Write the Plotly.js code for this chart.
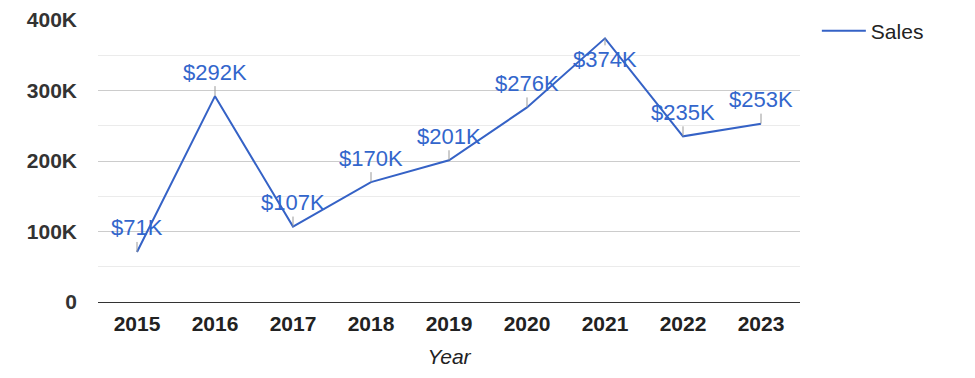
<!DOCTYPE html>
<html>
<head>
<meta charset="utf-8">
<script src="https://cdn.plot.ly/plotly-3.0.1.min.js"></script>
<style>
  html, body { margin: 0; padding: 0; background: #fff; }
  #chart { width: 975px; height: 378px; }
</style>
</head>
<body>
<div id="chart"></div>
<script>
// ---- Data ----
const years = ["2015", "2016", "2017", "2018", "2019", "2020", "2021", "2022", "2023"];
const sales = [71000, 292000, 107000, 170000, 201000, 276000, 374000, 235000, 253000];
const labelBelow = [false, false, false, false, false, false, true, false, false];
const yTickVals = [0, 100000, 200000, 300000, 400000];
const yTickText = ["0", "100K", "200K", "300K", "400K"];
const seriesName = "Sales";
const xTitle = "Year";

const FONT = "Arial, 'Liberation Sans', sans-serif";
const BLUE = "#3366cc";
const LINE_BLUE = "#3562c6";

const trace = {
  type: "scatter",
  mode: "lines",
  x: years,
  y: sales,
  name: seriesName,
  line: { color: LINE_BLUE, width: 2 },
  hoverinfo: "skip",
  showlegend: true
};

const annotations = years.map((yr, i) => ({
  x: i,
  y: sales[i],
  xref: "x",
  yref: "y",
  text: "$" + Math.round(sales[i] / 1000) + "K",
  showarrow: true,
  arrowhead: 0,
  arrowwidth: 1,
  arrowcolor: "#999999",
  ax: 0,
  ay: labelBelow[i] ? 21 : -24,
  axref: "pixel",
  ayref: "pixel",
  standoff: 0,
  font: { family: FONT, size: 22, color: BLUE }
}));

const layout = {
  width: 975,
  height: 378,
  margin: { l: 98, r: 175, t: 19, b: 76, pad: 0 },
  paper_bgcolor: "#ffffff",
  plot_bgcolor: "#ffffff",
  font: { family: FONT, color: "#222222" },
  showlegend: true,
  legend: {
    x: 1.024,
    xanchor: "left",
    y: 1.03,
    yanchor: "top",
    itemwidth: 44,
    font: { family: FONT, size: 21, color: "#222222" },
    bgcolor: "rgba(0,0,0,0)",
    borderwidth: 0
  },
  xaxis: {
    type: "category",
    range: [-0.5, 8.5],
    showgrid: false,
    zeroline: false,
    showline: false,
    ticks: "",
    tickfont: { family: FONT, size: 21, color: "#222222", weight: "bold" },
    ticklabelstandoff: 7,
    title: {
      text: xTitle,
      font: { family: FONT, size: 21, color: "#222222", style: "italic" },
      standoff: 15
    },
    fixedrange: true
  },
  yaxis: {
    range: [0, 400000],
    tickvals: yTickVals,
    ticktext: yTickText,
    showgrid: true,
    gridcolor: "#cccccc",
    gridwidth: 1,
    zeroline: true,
    zerolinecolor: "#333333",
    zerolinewidth: 1,
    showline: false,
    ticks: "",
    tickfont: { family: FONT, size: 21, color: "#333333", weight: "bold" },
    ticklabelstandoff: 20,
    minor: { dtick: 50000, tick0: 0, showgrid: true, gridcolor: "#ebebeb", gridwidth: 1, ticks: "" },
    fixedrange: true
  },
  annotations: annotations,
  hovermode: false
};

Plotly.newPlot("chart", [trace], layout, { displayModeBar: false, staticPlot: true });
</script>
</body>
</html>
